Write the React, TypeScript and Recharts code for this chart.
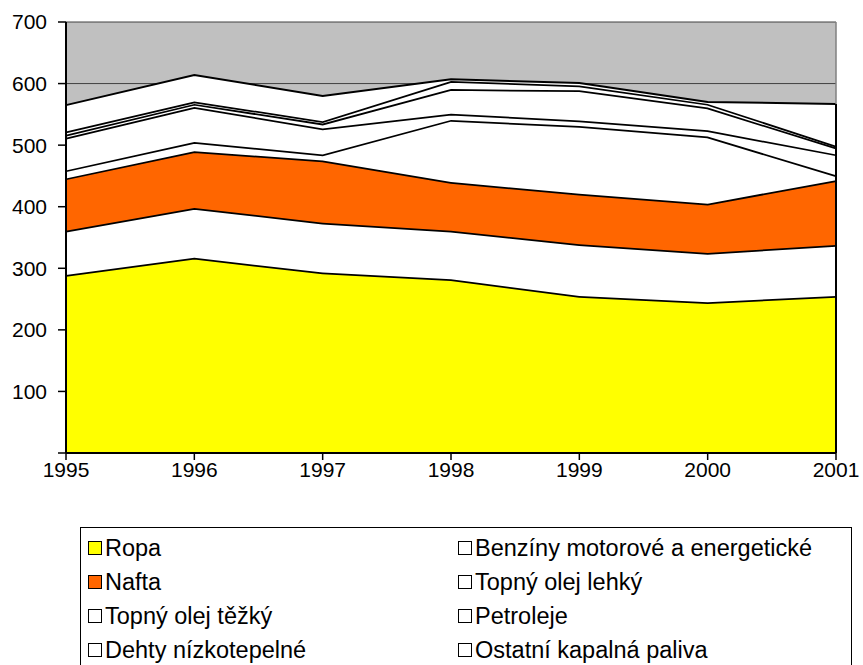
import React from "react";
import {
  AreaChart,
  Area,
  XAxis,
  YAxis,
  CartesianGrid,
  ReferenceLine,
} from "recharts";

const years = [1995, 1996, 1997, 1998, 1999, 2000, 2001];
const ropa = [289, 317, 293, 282, 255, 245, 255];
const benziny = [72, 81, 81, 79, 84, 80, 83];
const nafta = [85, 92, 101, 79, 82, 80, 105];
const topnyLehky = [13, 15, 10, 101, 110, 109, 8];
const topnyTezky = [53, 57, 42, 10, 9, 10, 34];
const petroleje = [5, 5, 8, 40, 49, 37, 11];
const dehty = [5, 4, 4, 13, 8, 6, 3];
const ostatni = [43, 43, 41, 3, 4, 3, 68];
const yTicks = [0, 100, 200, 300, 400, 500, 600, 700];

const series = [
  { key: "ropa", name: "Ropa", values: ropa, fill: "#ffff00" },
  { key: "benziny", name: "Benzíny motorové a energetické", values: benziny, fill: "#ffffff" },
  { key: "nafta", name: "Nafta", values: nafta, fill: "#ff6600" },
  { key: "topnyLehky", name: "Topný olej lehký", values: topnyLehky, fill: "#ffffff" },
  { key: "topnyTezky", name: "Topný olej těžký", values: topnyTezky, fill: "#ffffff" },
  { key: "petroleje", name: "Petroleje", values: petroleje, fill: "#ffffff" },
  { key: "dehty", name: "Dehty nízkotepelné", values: dehty, fill: "#ffffff" },
  { key: "ostatni", name: "Ostatní kapalná paliva", values: ostatni, fill: "#ffffff" },
];

const data = years.map((year, i) => {
  const row: any = { year };
  series.forEach((s) => (row[s.key] = s.values[i]));
  return row;
});

const lastTotal = series.reduce((sum, s) => sum + s.values[s.values.length - 1], 0);

const font = "'Liberation Sans', Arial, sans-serif";

export default function App() {
  return (
    <div style={{ position: "absolute", left: 0, top: 0, width: 863, height: 665, background: "#fff", overflow: "hidden" }}>
      <AreaChart
        width={863}
        height={665}
        data={data}
        margin={{ top: 22, right: 27, left: 0, bottom: 182 }}
      >
        <CartesianGrid
          vertical={false}
          fill="#c0c0c0"
          stroke="#404040"
          strokeWidth={1}
        />
        <XAxis
          dataKey="year"
          height={30}
          axisLine={{ stroke: "#000", strokeWidth: 2 }}
          tickLine={{ stroke: "#000", strokeWidth: 1.5 }}
          tickSize={7}
          tickMargin={2}
          interval={0}
          tick={{ fontSize: 21, fill: "#000", fontFamily: font }}
        />
        <YAxis
          width={66}
          domain={[0, 700]}
          ticks={yTicks}
          interval={0}
          axisLine={{ stroke: "#000", strokeWidth: 2 }}
          tickLine={{ stroke: "#000", strokeWidth: 1.5 }}
          tickSize={8}
          tickMargin={11}
          tickFormatter={(v) => (v === 0 ? "" : String(v))}
          tick={{ fontSize: 21, fill: "#000", fontFamily: font }}
        />
        {series.map((s, i) => (
          <Area
            key={s.key}
            type="linear"
            dataKey={s.key}
            name={s.name}
            stackId="1"
            fill={s.fill}
            fillOpacity={1}
            stroke="#000"
            strokeWidth={i === series.length - 1 ? 2 : 3.5}
            isAnimationActive={false}
            dot={false}
            activeDot={false}
          />
        ))}
        <ReferenceLine x={2001} stroke="#808080" strokeWidth={1.5} />
        <ReferenceLine
          segment={[
            { x: 2001, y: 0 },
            { x: 2001, y: lastTotal },
          ]}
          stroke="#000"
          strokeWidth={2}
        />
      </AreaChart>
      <div
        style={{
          position: "absolute",
          left: 80,
          top: 527,
          width: 772,
          height: 145,
          border: "1px solid #000",
          boxSizing: "border-box",
          display: "grid",
          gridTemplateColumns: "370px 1fr",
          gridAutoRows: "34px",
          paddingTop: 3,
          paddingLeft: 7,
          fontFamily: font,
          fontSize: 23.5,
          color: "#000",
        }}
      >
        {series.map((s) => (
          <div key={s.key} style={{ display: "flex", alignItems: "center", whiteSpace: "nowrap" }}>
            <span
              style={{
                display: "inline-block",
                width: 12,
                height: 12,
                border: "1px solid #000",
                background: s.fill,
                marginRight: 3,
              }}
            />
            <span>{s.name}</span>
          </div>
        ))}
      </div>
    </div>
  );
}
